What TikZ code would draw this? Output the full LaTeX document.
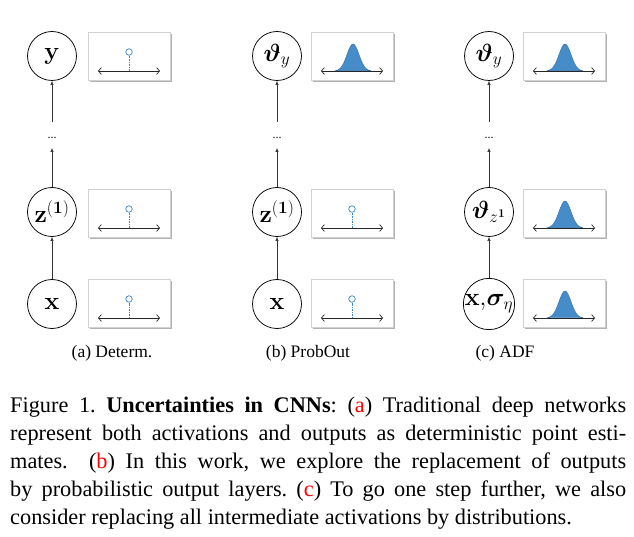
\documentclass[tikz,border=0pt]{standalone}
\usepackage[no-math]{fontspec}
\setmainfont{Liberation Serif}
\usepackage{amsmath,bm}
\usetikzlibrary{arrows.meta,shadows}
\definecolor{gblue}{RGB}{70,140,200}
\definecolor{gedge}{RGB}{45,110,170}
\definecolor{lblue}{RGB}{55,135,200}
\tikzset{
 var/.style={circle, draw=black, line width=0.75pt, minimum size=49pt, inner sep=0pt, font=\fontsize{23}{23}\selectfont},
 distbox/.style={draw=black!18, fill=white, minimum width=82pt, minimum height=48pt, inner sep=0pt, line width=0.6pt, drop shadow={shadow xshift=2pt, shadow yshift=-2.2pt, fill=black!55, opacity=0.55}},
 conn/.style={draw=black!80, line width=0.6pt, -{Latex[length=4pt,width=3.5pt]}},
 axisline/.style={black!85, line width=0.7pt, {Straight Barb[length=3pt,width=7pt]}-{Straight Barb[length=3pt,width=7pt]}},
 stem/.style={lblue, line width=0.7pt, dash pattern=on 1.5pt off 1pt},
 bead/.style={circle, draw=lblue, fill=white, line width=0.7pt, minimum size=6.5pt, inner sep=0pt},
 dotsnode/.style={inner sep=0pt, font=\fontsize{12}{12}\selectfont},
 subcap/.style={font=\fontsize{17.5}{20}\selectfont},
 capline/.style={anchor=base west, inner sep=0pt, font=\fontsize{22.3}{28}\selectfont},
}
\newcommand\ptbox[3]{%
 \node[distbox] (#1) at (#2,#3) {};
 \node[bead] (#1b) at (#2,#3-4) {};
 \draw[stem] (#2,#3+15) -- (#1b);
 \draw[axisline] (#2-31,#3+15) -- (#2+31,#3+15);
}
\newcommand\gsbox[3]{%
 \node[distbox] (#1) at (#2,#3) {};
 \fill[gblue, draw=gedge, line width=0.4pt] plot[domain=-18:18, samples=41, smooth] ({#2+1+\x},{#3+15-27*exp(-(\x*\x)/72)}) -- cycle;
 \draw[axisline] (#2-31,#3+15) -- (#2+31,#3+15);
}
\frenchspacing
\begin{document}
\begin{tikzpicture}[x=1pt, y=-1pt]
\useasboundingbox (0,0) rectangle (634,537);
% column a
\node[var] (ya) at (52,56) {$\mathbf{y}$};
\node[var] (za) at (52,212) {$\mathbf{z}^{(\mathbf{1})}$};
\node[var] (xa) at (52,304) {$\mathbf{x}$};
\node[dotsnode] (da) at (52,138) {...};
\draw[conn] (xa) -- (za);
\draw[conn] (za) -- ([yshift=-10pt]da.center);
\draw[conn] ([yshift=16pt]da.center) -- (ya);
\ptbox{pya}{129}{56}
\ptbox{pza}{129}{213}
\ptbox{pxa}{129}{303}
% column b
\node[var] (yb) at (277,56) {$\bm{\vartheta}_y$};
\node[var] (zb) at (277,212) {$\mathbf{z}^{(\mathbf{1})}$};
\node[var] (xb) at (277,304) {$\mathbf{x}$};
\node[dotsnode] (db) at (277,138) {...};
\draw[conn] (xb) -- (zb);
\draw[conn] (zb) -- ([yshift=-10pt]db.center);
\draw[conn] ([yshift=16pt]db.center) -- (yb);
\gsbox{pyb}{352}{56}
\ptbox{pzb}{352}{213}
\ptbox{pxb}{352}{303}
% column c
\node[var] (yc) at (489,56) {$\bm{\vartheta}_y$};
\node[var] (zc) at (489,212) {$\bm{\vartheta}_{z^{\mathbf{1}}}$};
\node[var] (xc) at (489,304) {$\mathbf{x},\!\bm{\sigma}_{\eta}$};
\node[dotsnode] (dc) at (489,138) {...};
\draw[conn] (xc) -- (zc);
\draw[conn] (zc) -- ([yshift=-10pt]dc.center);
\draw[conn] ([yshift=16pt]dc.center) -- (yc);
\gsbox{pyc}{564}{56}
\gsbox{pzc}{564}{213}
\gsbox{pxc}{564}{303}
% sub-captions
\node[subcap] (sa) at (112,353) {(a) Determ.};
\node[subcap] (sb) at (308,353) {(b) ProbOut};
\node[subcap] (sc) at (505,353) {(c) ADF};
% caption
\node[capline] (c1) at (10,412) {\makebox[616pt][s]{Figure 1. \textbf{Uncertainties in CNNs}: (\textcolor{red}{a}) Traditional deep networks}};
\node[capline] (c2) at (10,440) {\makebox[616pt][s]{represent both activations and outputs as deterministic point esti-}};
\node[capline] (c3) at (10,468) {\makebox[616pt][s]{mates.\ \ (\textcolor{red}{b}) In this work, we explore the replacement of outputs}};
\node[capline] (c4) at (10,496) {\makebox[616pt][s]{by probabilistic output layers. (\textcolor{red}{c}) To go one step further, we also}};
\node[capline] (c5) at (10,524) {consider replacing all intermediate activations by distributions.};
\end{tikzpicture}
\end{document}
